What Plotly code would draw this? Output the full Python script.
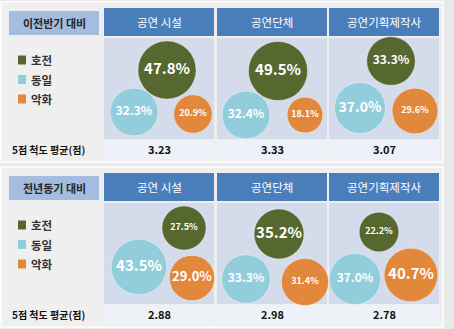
import plotly.graph_objects as go
import math

# ---------------- data ----------------
panels = ["이전반기 대비", "전년동기 대비"]
groups = ["공연 시설", "공연단체", "공연기획제작사"]
statuses = ["호전", "동일", "악화"]
improve_prev = [47.8, 49.5, 33.3]
same_prev = [32.3, 32.4, 37.0]
worse_prev = [20.9, 18.1, 29.6]
improve_yoy = [27.5, 35.2, 22.2]
same_yoy = [43.5, 33.3, 37.0]
worse_yoy = [29.0, 31.4, 40.7]
avg_prev = [3.23, 3.33, 3.07]
avg_yoy = [2.88, 2.98, 2.78]
avg_label = "5점 척도 평균(점)"

panel_values = [
    [improve_prev, same_prev, worse_prev],
    [improve_yoy, same_yoy, worse_yoy],
]
panel_avgs = [avg_prev, avg_yoy]

# ---------------- layout / style ----------------
W, H = 454, 329
FONT = "Noto Sans CJK KR, Noto Sans, sans-serif"
colors = ["#56682f", "#92cddc", "#e2883d"]
K = 8.4  # bubble diameter = K * sqrt(value)

panel_top = [0, 165]
col_left = [104, 217, 329]
col_w = 110
# bubble centre offsets (dx, dy) relative to column left / bubble-area top
offsets = [
    [[(63, 32), (30, 74), (89, 76)],
     [(61, 33), (29, 77), (88, 77)],
     [(62, 23), (31, 70), (86, 73)]],
    [[(80, 25), (35, 64), (88, 75)],
     [(62, 31), (29, 76), (88, 79)],
     [(50, 29), (26, 76), (82, 72)]],
]
label_sizes = [
    [[15, 12, 9], [15, 12, 9], [12, 14, 9]],
    [[9, 15, 13], [15, 12, 9], [9, 12, 15]],
]

fig = go.Figure()
shapes = []
annotations = []

def rect(x0, y0, x1, y1, fill, line=None, lw=0):
    shapes.append(dict(type="rect", xref="x", yref="y", x0=x0, y0=y0, x1=x1, y1=y1,
                       fillcolor=fill, line=dict(color=line or fill, width=lw),
                       layer="below"))

def text(x, y, s, size, color, bold=True, xanchor="center"):
    annotations.append(dict(x=x, y=y, xref="x", yref="y", text=(f"<b>{s}</b>" if bold else s),
                            showarrow=False, xanchor=xanchor, yanchor="middle",
                            font=dict(family=FONT, size=size, color=color)))

for p, top in enumerate(panel_top):
    # panel background
    rect(1, top + 2, 443, top + 162, "#efefef", "#fafafa", 2)
    # label box
    rect(9, top + 11, 99, top + 35, "#a3bcdf")
    text(54, top + 23, panels[p], 11, "#262626")
    # legend
    for i, st in enumerate(statuses):
        ly = top + 60 + i * 19.5
        rect(18, ly - 4.5, 26, ly + 4.5, colors[i])
        text(29, ly, st, 11.5, "#333333", xanchor="left")
    # row label
    text(10, top + 149, avg_label, 10, "#111111", xanchor="left")
    for c, g in enumerate(groups):
        x0 = col_left[c]
        # header
        rect(x0, top + 8, x0 + col_w, top + 36, "#4a7ebb")
        text(x0 + col_w / 2, top + 22, g, 11.5, "#ffffff", bold=False)
        # bubble area
        rect(x0, top + 38, x0 + col_w, top + 139, "#d4dbea")
        # average row
        rect(x0, top + 140.5, x0 + col_w, top + 159, "#eef1f7")
        text(x0 + col_w / 2, top + 149, f"{panel_avgs[p][c]:.2f}", 11, "#111111")

# bubbles
for p, top in enumerate(panel_top):
    for i, st in enumerate(statuses):
        xs, ys, sz, tx, fs = [], [], [], [], []
        for c in range(len(groups)):
            v = panel_values[p][i][c]
            dx, dy = offsets[p][c][i]
            xs.append(col_left[c] + dx)
            ys.append(top + 38 + dy)
            sz.append(K * math.sqrt(v))
            tx.append(f"<b>{v:.1f}%</b>")
            fs.append(label_sizes[p][c][i])
        fig.add_trace(go.Scatter(
            x=xs, y=ys, mode="markers+text", text=tx, textposition="middle center",
            textfont=dict(family=FONT, size=fs, color="#ffffff"),
            marker=dict(size=sz, color=colors[i], opacity=1,
                        line=dict(color="rgba(255,255,255,0.35)", width=1)),
            hoverinfo="skip", showlegend=False, cliponaxis=False))

fig.update_layout(
    width=W, height=H, margin=dict(l=0, r=0, t=0, b=0),
    paper_bgcolor="#e9e9e9", plot_bgcolor="rgba(0,0,0,0)",
    xaxis=dict(range=[0, W], visible=False, fixedrange=True),
    yaxis=dict(range=[H, 0], visible=False, fixedrange=True),
    shapes=shapes, annotations=annotations, showlegend=False,
)
fig.write_html("out.html")
